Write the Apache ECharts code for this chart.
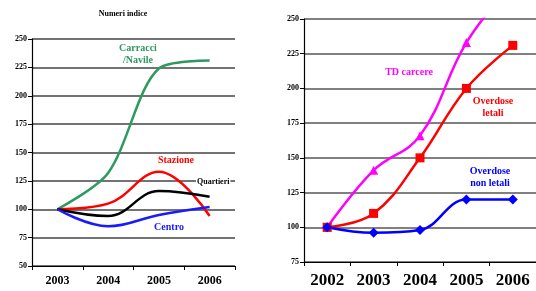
<!DOCTYPE html>
<html>
<head>
<meta charset="utf-8">
<script src="https://cdn.jsdelivr.net/npm/echarts@6/dist/echarts.min.js"></script>
<style>
  html, body { margin: 0; padding: 0; background: #fff; }
  #chart { width: 536px; height: 291px; }
</style>
</head>
<body>
<div id="chart"></div>
<script>
// left panel: index numbers by area
const yearsLeft = ['2003', '2004', '2005', '2006'];
const carracci = [100, 132, 224, 231];
const stazione = [100, 105, 133, 94];
const quartieri = [100, 94, 116, 111];
const centro = [100, 85, 95, 102];

// right panel
const yearsRight = ['2002', '2003', '2004', '2005', '2006'];
const tdCarcere = [100, 141, 166, 233, 276];
const overdoseLetali = [100, 110, 150, 200, 231];
const overdoseNonLetali = [100, 96, 98, 120, 120];

const serif = '"Liberation Serif", "DejaVu Serif", serif';
const chart = echarts.init(document.getElementById('chart'));

const yAxisBase = {
  type: 'value',
  interval: 25,
  axisLine: { show: true, lineStyle: { color: '#000', width: 1.2 } },
  axisTick: { show: true, length: 4, lineStyle: { color: '#000' } },
  axisLabel: { color: '#000', fontFamily: serif, fontWeight: 'bold', fontSize: 8, margin: 5 }
};

const xAxisBase = {
  type: 'category',
  boundaryGap: true,
  axisLine: { show: true, lineStyle: { color: '#000', width: 1.2 } },
  axisTick: { show: true, length: 4, lineStyle: { color: '#000' } },
  splitLine: { show: false }
};

function line(name, data, color, axis, symbol, smooth) {
  return {
    name: name,
    type: 'line',
    xAxisIndex: axis,
    yAxisIndex: axis,
    data: data,
    smooth: smooth,
    clip: true,
    symbol: symbol || 'none',
    symbolSize: symbol === 'diamond' ? 10 : 9,
    showSymbol: !!symbol,
    lineStyle: { color: color, width: 2.5 },
    itemStyle: { color: color },
    z: 3
  };
}

// centred text at (x, y) = centre / top
function label(x, y, text, color, size) {
  return {
    type: 'text', x: x, y: y, z: 10,
    style: {
      text: text, fill: color, font: 'bold ' + (size || 10) + 'px ' + serif,
      align: 'center', verticalAlign: 'top', lineHeight: 12
    }
  };
}

chart.setOption({
  animation: false,
  backgroundColor: '#fff',
  grid: [
    { left: 32, top: 39, width: 203, height: 227 },
    { left: 304, top: 19, width: 233, height: 243 }
  ],
  xAxis: [
    Object.assign({}, xAxisBase, {
      gridIndex: 0, data: yearsLeft,
      axisLabel: { color: '#000', fontFamily: serif, fontWeight: 'bold', fontSize: 12, margin: 9 }
    }),
    Object.assign({}, xAxisBase, {
      gridIndex: 1, data: yearsRight,
      axisLabel: { color: '#000', fontFamily: serif, fontWeight: 'bold', fontSize: 17, margin: 10 }
    })
  ],
  yAxis: [
    Object.assign({}, yAxisBase, {
      gridIndex: 0, min: 50, max: 250,
      splitLine: { show: true, lineStyle: { color: '#444', width: 1.5 } }
    }),
    Object.assign({}, yAxisBase, {
      gridIndex: 1, min: 75, max: 250,
      splitLine: { show: true, lineStyle: { color: '#808080', width: 2 } }
    })
  ],
  series: [
    line('Carracci /Navile', carracci, '#2e9960', 0, null, 0.3),
    line('Stazione', stazione, '#ff0000', 0, null, 0.4),
    line('Quartieri', quartieri, '#000000', 0, null, 0.4),
    line('Centro', centro, '#1a1aff', 0, null, 0.4),
    line('TD carcere', tdCarcere, '#ff00ff', 1, 'triangle', 0.4),
    line('Overdose letali', overdoseLetali, '#ff0000', 1, 'rect', 0.4),
    line('Overdose non letali', overdoseNonLetali, '#0000ff', 1, 'diamond', 0.4)
  ],
  graphic: [
    label(123, 8, 'Numeri indice', '#000', 8),
    label(138, 42, 'Carracci\n/Navile', '#2e9960', 10),
    label(176, 154, 'Stazione', '#ff0000', 10),
    {
      type: 'text', x: 196, y: 177, z: 10,
      style: {
        text: 'Quartieri', fill: '#000', font: 'bold 8px ' + serif,
        backgroundColor: '#fff', padding: [1, 1]
      }
    },
    label(169, 221, 'Centro', '#1a1aff', 10),
    label(409, 66, 'TD carcere', '#ff00ff', 10),
    label(493, 95, 'Overdose\nletali', '#ff0000', 10),
    label(490, 165, 'Overdose\nnon letali', '#0000ff', 10)
  ]
});
</script>
</body>
</html>
